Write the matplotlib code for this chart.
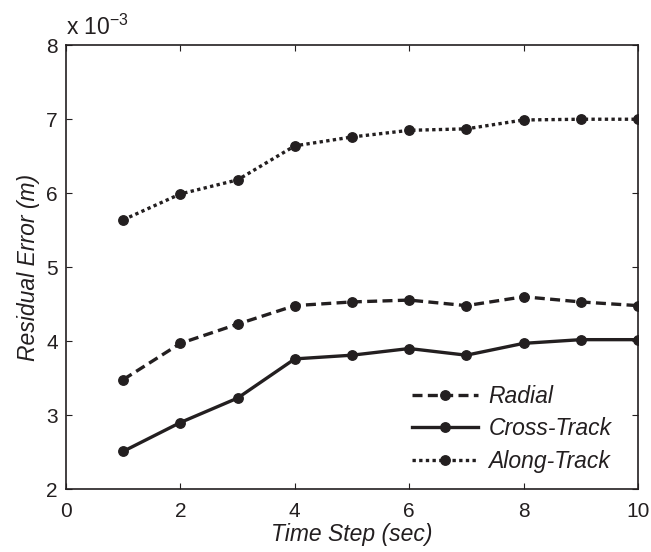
import numpy as np
import matplotlib.pyplot as plt
from matplotlib.ticker import FuncFormatter

plt.rcParams["font.family"] = ["Liberation Sans", "DejaVu Sans"]
plt.rcParams["mathtext.default"] = "regular"
plt.rcParams["axes.unicode_minus"] = False

INK = "#231f20"

time_step = [1, 2, 3, 4, 5, 6, 7, 8, 9, 10]
radial = [3.48e-3, 3.97e-3, 4.23e-3, 4.48e-3, 4.53e-3, 4.555e-3, 4.48e-3, 4.60e-3, 4.53e-3, 4.48e-3]
cross_track = [2.51e-3, 2.90e-3, 3.23e-3, 3.76e-3, 3.81e-3, 3.90e-3, 3.81e-3, 3.97e-3, 4.02e-3, 4.02e-3]
along_track = [5.64e-3, 5.99e-3, 6.18e-3, 6.64e-3, 6.76e-3, 6.85e-3, 6.87e-3, 6.99e-3, 7.00e-3, 7.00e-3]

xticks = [0, 2, 4, 6, 8, 10]
yticks = [2e-3, 3e-3, 4e-3, 5e-3, 6e-3, 7e-3, 8e-3]


def main():
    fig = plt.figure(figsize=(6.51, 5.52), dpi=100)
    ax = fig.add_axes([0.1014, 0.114, 0.8786, 0.804])

    style = dict(color=INK, linewidth=2.4, marker="o", markersize=6.8)
    ax.plot(time_step, radial, linestyle=(0, (3, 1.6)), label="Radial", **style)
    ax.plot(time_step, cross_track, linestyle="-", label="Cross-Track", **style)
    ax.plot(time_step, along_track, linestyle=(0, (1, 1)), label="Along-Track", **style)

    ax.set_xlim(0, 10)
    ax.set_ylim(2e-3, 8e-3)
    ax.set_xticks(xticks)
    ax.set_yticks(yticks)
    ax.yaxis.set_major_formatter(FuncFormatter(lambda v, p: f"{v * 1e3:g}"))
    ax.tick_params(direction="in", length=4, width=0.8, colors=INK,
                   labelsize=15, top=True, right=True, labelcolor=INK)
    ax.tick_params(axis="x", pad=9)
    ax.tick_params(axis="y", pad=6)
    for sp in ax.spines.values():
        sp.set_color(INK)
        sp.set_linewidth(1.2)

    ax.set_xlabel("Time Step (sec)", fontsize=16.5, style="italic", color=INK, labelpad=2)
    ax.set_ylabel("Residual Error (m)", fontsize=16.5, style="italic", color=INK, labelpad=4)
    ax.text(0.0, 1.0225, r"x 10$^{\mathregular{-3}}$", transform=ax.transAxes, fontsize=16.5,
            color=INK, ha="left", va="baseline")

    leg = ax.legend(loc="lower right", frameon=False, fontsize=16.5,
                    handlelength=2.9, handletextpad=0.45, labelspacing=0.42,
                    bbox_to_anchor=(0.99, -0.01))
    for t in leg.get_texts():
        t.set_style("italic")
        t.set_color(INK)

    fig.savefig("out.png", dpi=100)


if __name__ == "__main__":
    main()
